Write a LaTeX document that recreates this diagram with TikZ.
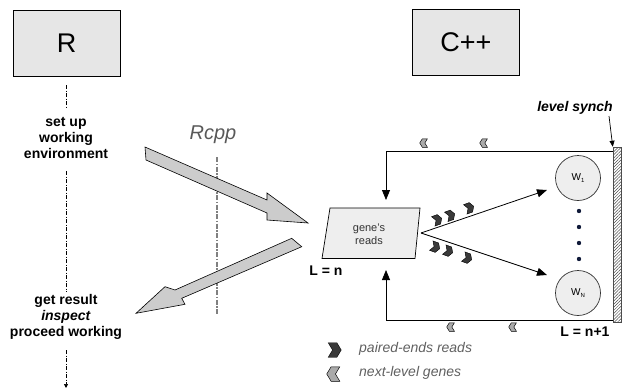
\documentclass[tikz,border=0pt]{standalone}
\usepackage{fontspec}
\setmainfont{Liberation Sans}
\usetikzlibrary{arrows.meta,patterns.meta}
\definecolor{boxgray}{HTML}{E6E6E6}
\definecolor{lightfill}{HTML}{EEEEEE}
\definecolor{arrowfill}{HTML}{CCCCCC}
\definecolor{chevdarkc}{HTML}{3A3A3A}
\definecolor{chevlightc}{HTML}{AAAAAA}
\definecolor{legendtxt}{HTML}{606060}
\definecolor{dotc}{HTML}{101A3A}
\tikzset{
  langbox/.style={draw=black, line width=0.8pt, fill=boxgray, minimum width=107, minimum height=66, inner sep=0pt, font=\fontsize{27}{30}\selectfont},
  boldlbl/.style={font=\fontsize{14}{16}\selectfont\bfseries, align=center, inner sep=0pt},
  lifeline/.style={line width=0.7pt, dash pattern=on 4pt off 1.5pt on 1pt off 1.5pt},
  rcppline/.style={line width=1.2pt, draw=gray, dash pattern=on 5pt off 1.5pt on 1.5pt off 1.5pt},
  bigarrow/.style={draw=black, line width=0.6pt, fill=arrowfill, line join=miter},
  flow/.style={line width=0.8pt, -{Triangle[length=10pt,width=8pt]}},
  worker/.style={circle, draw=black!80, line width=0.7pt, fill=lightfill, minimum size=45pt, inner sep=0pt, font=\fontsize{10}{12}\selectfont},
  legendlbl/.style={font=\fontsize{14}{16}\selectfont\itshape, text=legendtxt, anchor=west, inner sep=0pt},
  pics/readchev/.style={code={\filldraw[fill=chevdarkc, draw=black, line width=0.4pt, line join=miter] (-4,-5)--(2,-5)--(5,0)--(2,5)--(-4,5)--(-1,0)--cycle;}},
  pics/genechev/.style={code={\filldraw[fill=chevlightc, draw=black, line width=0.5pt, line join=miter] (4,-5)--(-2,-5)--(-5,0)--(-2,5)--(4,5)--(1,0)--cycle;}}
}
\newcommand\subsm[1]{\raisebox{-2pt}{\fontsize{6}{6}\selectfont #1}}
\begin{document}
\begin{tikzpicture}[x=1pt,y=-1pt]
\useasboundingbox (0,0) rectangle (622,389);

% language boxes
\node[langbox] (R) at (66.5,43) {R};
\node[langbox] (C) at (466,42.5) {C++};

% R side labels
\node[boldlbl] (setup) at (66,138) {set up\\working\\environment};
\node[boldlbl] (result) at (66,317) {get result\\\textit{inspect}\\proceed working};

% R lifeline
\coordinate (l0) at (66,85);
\coordinate (l1) at (66,107);
\coordinate (l2) at (66,171);
\coordinate (l3) at (66,292);
\coordinate (l4) at (66,350);
\coordinate (l5) at (66,388);
\draw[lifeline] (l0) -- (l1);
\draw[lifeline] (l2) -- (l3);
\draw[lifeline, -{Triangle[length=4pt,width=4pt]}] (l4) -- (l5);

% Rcpp
\node[font=\fontsize{20}{22}\selectfont\itshape, text=black!65, inner sep=0pt] (rcpp) at (213,135) {Rcpp};
\coordinate (rc0) at (217,157);
\coordinate (rc1) at (217,315);
\draw[rcppline] (rc0) -- (rc1);

% big arrows
\draw[bigarrow] (145,147) -- (267,200) -- (267,193) -- (308,223) -- (267,220) -- (267,213) -- (146,160) -- cycle;
\draw[bigarrow] (291.7,238.3) -- (175,290) -- (165,286.7) -- (136,313.3) -- (185,304.3) -- (181.7,298.3) -- (301.7,246.7) -- cycle;

% gene's reads
\filldraw[draw=black, line width=0.7pt, fill=lightfill] (330,208) -- (420,208) -- (415,258.5) -- (322,258.5) -- cycle;
\node[font=\fontsize{11}{13}\selectfont, text=black!80, align=center, inner sep=0pt] (genes) at (369,234.5) {gene's\\reads};
\node[boldlbl] (Ln) at (326,271) {L = n};

% workers
\node[worker] (w1) at (578,178) {W\subsm{1}};
\node[worker] (wN) at (578,293) {W\subsm{N}};
\foreach \yy in {211,227,243,259} \fill[dotc] (579,\yy) circle (2.2);

% synch bar
\node[draw=black!70, line width=0.6pt, pattern={Lines[angle=45,distance=2.2pt,line width=0.5pt]}, pattern color=black!70, minimum width=8pt, minimum height=175pt, inner sep=0pt] (bar) at (617,234.5) {};
\node[boldlbl, font=\fontsize{14}{16}\selectfont\bfseries\itshape] (synch) at (575,108) {level synch};
\coordinate (s0) at (609,116);
\draw[line width=0.7pt, -{Triangle[length=6pt,width=5pt]}] (s0) -- (bar.north west);

% loop connectors
\coordinate (apex) at (421,233);
\coordinate (gtop) at (386,200);
\coordinate (gbot) at (386,270);
\coordinate (tr) at (613,151);
\coordinate (br) at (613,320);
\coordinate (t1) at (547,190);
\coordinate (tN) at (547,275);
\draw[flow] (tr) -| (gtop);
\draw[flow] (br) -| (gbot);
\draw[flow] (apex) -- (t1);
\draw[flow] (apex) -- (tN);

% chevrons on lines
\pic[rotate=20] at (437,220) {readchev};
\pic[rotate=20] at (450,215.5) {readchev};
\pic[rotate=20] at (469,208) {readchev};
\pic[rotate=-20] at (435,247) {readchev};
\pic[rotate=-20] at (448,251) {readchev};
\pic[rotate=-20] at (467,258) {readchev};
\pic[scale=0.85] at (424,143) {genechev};
\pic[scale=0.85] at (484,143) {genechev};
\pic[scale=0.85] at (451,327) {genechev};
\pic[scale=0.85] at (513,327) {genechev};

% legend
\pic[scale=1.45] at (334,350) {readchev};
\pic[scale=1.45] at (334,374) {genechev};
\node[legendlbl] (leg1) at (359,349) {paired-ends reads};
\node[legendlbl] (leg2) at (359,373) {next-level genes};

\node[boldlbl] (Ln1) at (585,332) {L = n+1};
\end{tikzpicture}
\end{document}
